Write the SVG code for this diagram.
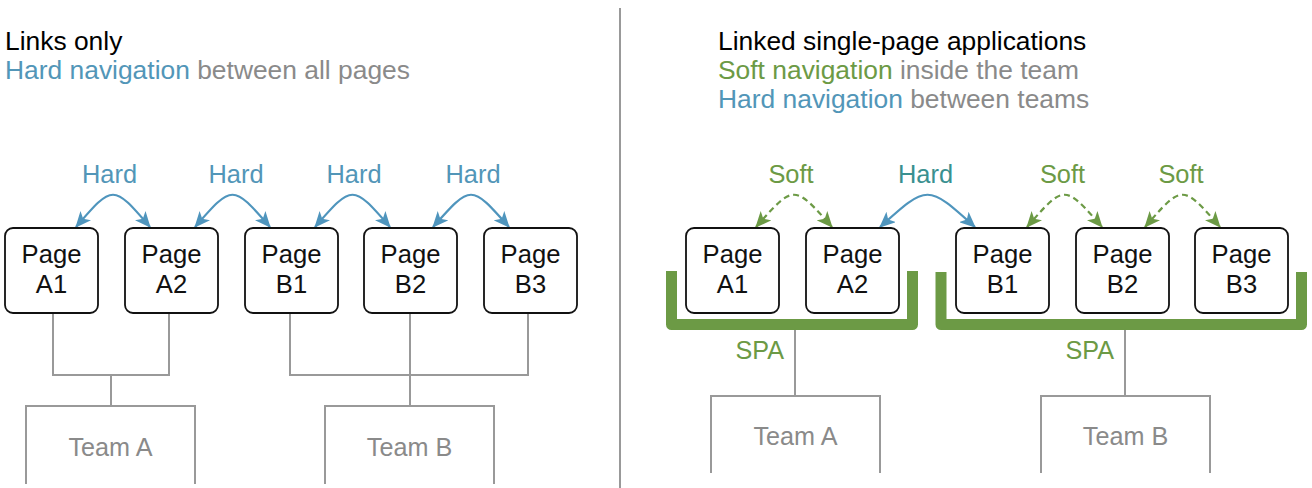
<svg xmlns="http://www.w3.org/2000/svg" width="1312" height="488" viewBox="0 0 1312 488">
  <style>
    text { font-family: "Liberation Sans", Arial, Helvetica, sans-serif; }
    .title { font-size: 26.4px; fill: #000; }
    .gray { fill: #8a8a8a; }
    .blue { fill: #5296b8; }
    .teal { fill: #3a9090; }
    .green { fill: #6c9a45; }
    .page rect { fill: #fff; stroke: #111; stroke-width: 1.8; }
    .page text { font-size: 25.6px; fill: #111; text-anchor: middle; }
    .label { font-size: 25.4px; text-anchor: middle; }
    .team path { fill: none; stroke: #999; stroke-width: 2; }
    .team text { font-size: 25.2px; fill: #8a8a8a; text-anchor: middle; }
    .wire { fill: none; stroke: #999; stroke-width: 2; }
    .hard { fill: none; stroke: #4f95bd; stroke-width: 2.2; marker-start: url(#arrowBlue); marker-end: url(#arrowBlue); }
    .soft { fill: none; stroke: #6c9a45; stroke-width: 2.2; stroke-dasharray: 6 4; marker-start: url(#arrowGreen); marker-end: url(#arrowGreen); }
    .spa { fill: none; stroke: #6c9a45; stroke-width: 11; stroke-linejoin: round; stroke-linecap: butt; }
    .spa-label { font-size: 25.2px; fill: #6c9a45; text-anchor: end; }
  </style>
  <defs>
    <marker id="arrowBlue" viewBox="0 0 16 14" refX="15" refY="7" markerWidth="16" markerHeight="14" markerUnits="userSpaceOnUse" orient="auto-start-reverse">
      <path d="M0,0 L16,7 L0,14 L4,7 Z" fill="#4f95bd"/>
    </marker>
    <marker id="arrowGreen" viewBox="0 0 16 14" refX="15" refY="7" markerWidth="16" markerHeight="14" markerUnits="userSpaceOnUse" orient="auto-start-reverse">
      <path d="M0,0 L16,7 L0,14 L4,7 Z" fill="#6c9a45"/>
    </marker>
  </defs>

  <rect x="0" y="0" width="1312" height="488" fill="#fff"/>

  <!-- divider -->
  <line x1="620" y1="8" x2="620" y2="488" stroke="#999" stroke-width="2"/>

  <!-- titles -->
  <g id="title-left">
    <text class="title" x="5" y="50">Links only</text>
    <text class="title" x="5" y="79"><tspan class="blue">Hard navigation</tspan><tspan class="gray"> between all pages</tspan></text>
  </g>
  <g id="title-right">
    <text class="title" x="718" y="50">Linked single-page applications</text>
    <text class="title" x="718" y="79"><tspan class="green">Soft navigation</tspan><tspan class="gray"> inside the team</tspan></text>
    <text class="title" x="718" y="108"><tspan class="blue">Hard navigation</tspan><tspan class="gray"> between teams</tspan></text>
  </g>

  <!-- SPA brackets -->
  <g id="spa-a">
    <path class="spa" d="M671.5,271 V324.5 H912.5 V271"/>
    <text class="spa-label" x="784" y="359">SPA</text>
  </g>
  <g id="spa-b">
    <path class="spa" d="M941,272 V324.5 H1301.5 V272"/>
    <text class="spa-label" x="1114" y="359">SPA</text>
  </g>

  <!-- connectors -->
  <g id="connectors">
    <!-- left tree -->
    <path class="wire" d="M53,313 V375 H169 V313"/>
    <path class="wire" d="M111,375 V406"/>
    <path class="wire" d="M290,313 V375 H528 V313"/>
    <path class="wire" d="M410,313 V406"/>
    <!-- right tree -->
    <path class="wire" d="M795,330 V396"/>
    <path class="wire" d="M1125,330 V396"/>
    <!-- left hard arcs -->
    <path class="hard" d="M76,227 C113,184 113,184 150,227"/>
    <path class="hard" d="M195,227 C232.5,184 232.5,184 270,227"/>
    <path class="hard" d="M315,227 C352.5,184 352.5,184 390,227"/>
    <path class="hard" d="M433,227 C471,184 471,184 509,227"/>
    <!-- right arcs -->
    <path class="soft" d="M756,227 C794,184 794,184 832,227"/>
    <path class="hard" d="M880,227 C927.5,184 927.5,184 975,227"/>
    <path class="soft" d="M1027,227 C1064.5,184 1064.5,184 1102,227"/>
    <path class="soft" d="M1145,227 C1182.5,184 1182.5,184 1220,227"/>
  </g>

  <!-- arc labels -->
  <g id="labels">
    <text class="label blue" x="109.5" y="183">Hard</text>
    <text class="label blue" x="236" y="183">Hard</text>
    <text class="label blue" x="354" y="183">Hard</text>
    <text class="label blue" x="473" y="183">Hard</text>
    <text class="label green" x="791" y="183">Soft</text>
    <text class="label teal" x="925.5" y="183">Hard</text>
    <text class="label green" x="1062.5" y="183">Soft</text>
    <text class="label green" x="1181" y="183">Soft</text>
  </g>

  <!-- left pages -->
  <g id="l-page-a1" class="page"><rect x="5" y="228" width="93" height="85" rx="8"/><text x="51.5" y="263">Page</text><text x="51.5" y="293">A1</text></g>
  <g id="l-page-a2" class="page"><rect x="125" y="228" width="93" height="85" rx="8"/><text x="171.5" y="263">Page</text><text x="171.5" y="293">A2</text></g>
  <g id="l-page-b1" class="page"><rect x="245" y="228" width="93" height="85" rx="8"/><text x="291.5" y="263">Page</text><text x="291.5" y="293">B1</text></g>
  <g id="l-page-b2" class="page"><rect x="364" y="228" width="93" height="85" rx="8"/><text x="410.5" y="263">Page</text><text x="410.5" y="293">B2</text></g>
  <g id="l-page-b3" class="page"><rect x="484" y="228" width="93" height="85" rx="8"/><text x="530.5" y="263">Page</text><text x="530.5" y="293">B3</text></g>

  <!-- right pages -->
  <g id="r-page-a1" class="page"><rect x="686" y="228" width="93" height="85" rx="8"/><text x="732.5" y="263">Page</text><text x="732.5" y="293">A1</text></g>
  <g id="r-page-a2" class="page"><rect x="806" y="228" width="93" height="85" rx="8"/><text x="852.5" y="263">Page</text><text x="852.5" y="293">A2</text></g>
  <g id="r-page-b1" class="page"><rect x="956" y="228" width="93" height="85" rx="8"/><text x="1002.5" y="263">Page</text><text x="1002.5" y="293">B1</text></g>
  <g id="r-page-b2" class="page"><rect x="1076" y="228" width="93" height="85" rx="8"/><text x="1122.5" y="263">Page</text><text x="1122.5" y="293">B2</text></g>
  <g id="r-page-b3" class="page"><rect x="1195" y="228" width="93" height="85" rx="8"/><text x="1241.5" y="263">Page</text><text x="1241.5" y="293">B3</text></g>

  <!-- teams -->
  <g id="l-team-a" class="team"><path d="M26,484 V406 H195 V484"/><text x="110.5" y="456">Team A</text></g>
  <g id="l-team-b" class="team"><path d="M325,484 V406 H494 V484"/><text x="409.5" y="456">Team B</text></g>
  <g id="r-team-a" class="team"><path d="M711,473 V396 H880 V473"/><text x="795.5" y="445">Team A</text></g>
  <g id="r-team-b" class="team"><path d="M1041,473 V396 H1210 V473"/><text x="1125.5" y="445">Team B</text></g>
</svg>
